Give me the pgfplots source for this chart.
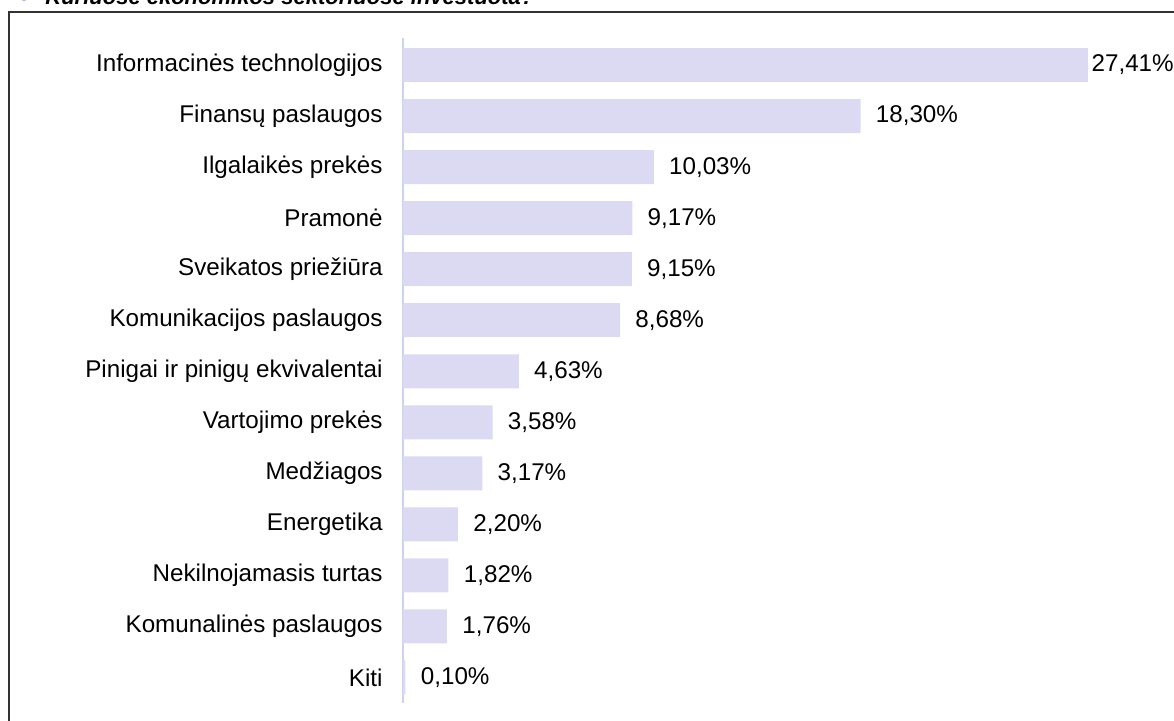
\documentclass[border=0pt]{standalone}
\usepackage{fontspec}
\setmainfont{Liberation Sans}
\usepackage{pgfplots}
\pgfplotsset{compat=1.18}
\definecolor{barfill}{RGB}{220,218,242}
\definecolor{axisblue}{RGB}{200,212,240}
\definecolor{framegray}{RGB}{50,50,50}
\definecolor{bulletblue}{RGB}{140,175,230}
\begin{document}
\begin{tikzpicture}
\useasboundingbox (0,0) rectangle (587pt,360pt);
% frame
\draw[line width=0.9pt, framegray] (4.4pt,-5pt) -- (4.4pt,354pt) -- (600pt,354pt);
% title (cut off at top as in reference)
\fill[bulletblue] (12pt,362pt) circle (2.5pt);
\node[anchor=base west, inner sep=0pt, font=\fontsize{11}{13}\selectfont\bfseries\itshape] at (22.5pt,358pt) {Kuriuose ekonomikos sektoriuose investuota?};
\begin{axis}[
  at={(201.5pt,8.5pt)}, anchor=south west,
  scale only axis, width=385.5pt, height=332.5pt,
  xmin=0, xmax=30.84, ymin=-0.53, ymax=12.5,
  y dir=reverse,
  xbar, bar width=17pt, bar shift=0pt,
  hide x axis,
  axis y line*=left,
  y axis line style={axisblue, line width=0.8pt},
  major tick length=0pt,
  ytick={0,...,12},
  yticklabels={Informacinės technologijos, Finansų paslaugos, Ilgalaikės prekės, Pramonė, Sveikatos priežiūra, Komunikacijos paslaugos, Pinigai ir pinigų ekvivalentai, Vartojimo prekės, Medžiagos, Energetika, Nekilnojamasis turtas, Komunalinės paslaugos, Kiti},
  yticklabel style={font=\fontsize{12.1}{14}\selectfont, text=black, inner sep=0pt, xshift=-10pt},
  /pgf/number format/assume math mode=true,
  nodes near coords={\pgfmathprintnumber[fixed, fixed zerofill, precision=2, use comma]{\pgfplotspointmeta}\%},
  nodes near coords style={font=\fontsize{12.1}{14}\selectfont, text=black, inner sep=0pt, anchor=west},
  clip=false,
]
\addplot[fill=barfill, draw=none, every node near coord/.append style={xshift=1.5pt}] coordinates {(27.41,0)};
\addplot[fill=barfill, draw=none, every node near coord/.append style={xshift=7.5pt}] coordinates {
(18.30,1) (10.03,2) (9.17,3) (9.15,4) (8.68,5) (4.63,6) (3.58,7) (3.17,8) (2.20,9) (1.82,10) (1.76,11) (0.10,12)};
\end{axis}
\end{tikzpicture}
\end{document}
